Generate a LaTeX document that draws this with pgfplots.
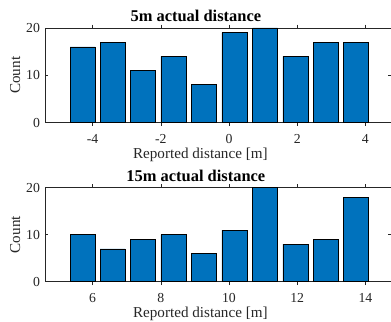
\documentclass[border=0pt]{standalone}
\usepackage{pgfplots}
\pgfplotsset{compat=1.18}
\usepackage{fontspec}
\setmainfont{Liberation Serif}
\definecolor{mblue}{HTML}{0072BD}
\definecolor{axgray}{HTML}{262626}
\pgfplotsset{
  hist/.style={
    scale only axis, width=346bp, height=94.5bp,
    anchor=south west,
    ymin=0, ymax=20, ytick={0,10,20},
    tick align=inside, major tick length=3.4bp,
    axis line style={axgray, line width=0.6bp},
    every tick/.style={axgray, line width=0.6bp},
    /pgf/number format/assume math mode=true,
    tick label style={font=\fontsize{13.8}{15}\selectfont, text=axgray},
    xticklabel style={anchor=base, yshift=-17.3bp},
    yticklabel style={anchor=east, xshift=-1.5bp},
    label style={font=\fontsize{15.2}{17}\selectfont, text=axgray},
    xlabel style={at={([yshift=-35.6bp]axis description cs:0.449,0)}, anchor=base},
    ylabel style={at={([xshift=-25bp]axis description cs:0,0.5)}, anchor=base},
    every axis title shift=0pt,
    title style={at={([yshift=6.3bp]axis description cs:0.436,1)}, anchor=base, font=\fontsize{16.5}{18}\selectfont\bfseries},
    ybar, bar width=0.733,
    xlabel={Reported distance [m]}, ylabel={Count},
  }
}
\begin{document}
\begin{tikzpicture}
\useasboundingbox (0bp,0bp) rectangle (391bp,322bp);
\begin{axis}[hist, at={(45bp,199.5bp)},
  xmin=-5.396, xmax=4.751, xtick={-4,-2,0,2,4},
  title={5m actual distance}]
\addplot[fill=mblue, draw=black, line width=0.6bp] coordinates {
(-4.296,16) (-3.416,17) (-2.522,11) (-1.628,14) (-0.733,8)
(0.161,19) (1.056,20) (1.950,14) (2.845,17) (3.733,17)};
\end{axis}
\begin{axis}[hist, at={(45bp,40.3bp)}, height=94bp,
  xmin=4.604, xmax=14.751, xtick={6,8,10,12,14},
  title={15m actual distance}]
\addplot[fill=mblue, draw=black, line width=0.6bp] coordinates {
(5.704,10) (6.584,7) (7.478,9) (8.372,10) (9.267,6)
(10.161,11) (11.056,20) (11.950,8) (12.845,9) (13.733,18)};
\end{axis}
\end{tikzpicture}
\end{document}
